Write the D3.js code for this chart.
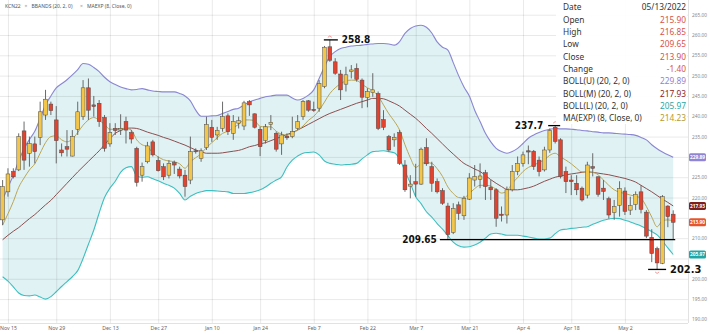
<!DOCTYPE html>
<html>
<head>
<meta charset="utf-8">
<script src="https://cdn.jsdelivr.net/npm/d3@7"></script>
<style>
  body { margin: 0; background: #fff; }
  svg { display: block; font-family: "Noto Sans", "Open Sans", sans-serif; }
</style>
</head>
<body>
<svg id="chart" width="710" height="334"></svg>
<script>
// KCN22 daily candles, Nov 12 2021 – May 13 2022
const dates = [
  "2021-11-12","2021-11-15","2021-11-16","2021-11-17","2021-11-18","2021-11-19","2021-11-22","2021-11-23","2021-11-24","2021-11-26","2021-11-29","2021-11-30",
  "2021-12-01","2021-12-02","2021-12-03","2021-12-06","2021-12-07","2021-12-08","2021-12-09","2021-12-10","2021-12-13","2021-12-14","2021-12-15","2021-12-16","2021-12-17","2021-12-20","2021-12-21","2021-12-22","2021-12-23","2021-12-27","2021-12-28","2021-12-29","2021-12-30","2021-12-31",
  "2022-01-03","2022-01-04","2022-01-05","2022-01-06","2022-01-07","2022-01-10","2022-01-11","2022-01-12","2022-01-13","2022-01-14","2022-01-18","2022-01-19","2022-01-20","2022-01-21","2022-01-24","2022-01-25","2022-01-26","2022-01-27","2022-01-28","2022-01-31",
  "2022-02-01","2022-02-02","2022-02-03","2022-02-04","2022-02-07","2022-02-08","2022-02-09","2022-02-10","2022-02-11","2022-02-14","2022-02-15","2022-02-16","2022-02-17","2022-02-18","2022-02-22","2022-02-23","2022-02-24","2022-02-25","2022-02-28",
  "2022-03-01","2022-03-02","2022-03-03","2022-03-04","2022-03-07","2022-03-08","2022-03-09","2022-03-10","2022-03-11","2022-03-14","2022-03-15","2022-03-16","2022-03-17","2022-03-18","2022-03-21","2022-03-22","2022-03-23","2022-03-24","2022-03-25","2022-03-28","2022-03-29","2022-03-30","2022-03-31",
  "2022-04-01","2022-04-04","2022-04-05","2022-04-06","2022-04-07","2022-04-08","2022-04-11","2022-04-12","2022-04-13","2022-04-14","2022-04-18","2022-04-19","2022-04-20","2022-04-21","2022-04-22","2022-04-25","2022-04-26","2022-04-27","2022-04-28","2022-04-29",
  "2022-05-02","2022-05-03","2022-05-04","2022-05-05","2022-05-06","2022-05-09","2022-05-10","2022-05-11","2022-05-12","2022-05-13"
];

const opens = [
  214.5,221.4,226.4,226.8,236.4,230.9,233.2,234.8,240.3,243.0,239.1,231.7,
  232.5,230.2,236.8,239.9,247.0,242.8,243.2,239.7,233.2,237.0,236.6,238.7,236.0,232.1,225.5,228.8,233.7,229.1,227.6,225.5,228.6,227.0,
  225.5,224.3,231.5,229.6,232.3,237.3,235.4,237.0,240.1,235.8,238.3,237.6,243.6,240.6,236.8,234.0,238.0,235.8,233.2,235.1,
  235.0,237.0,239.9,243.8,241.7,242.0,247.3,257.1,253.4,250.4,247.9,251.0,251.8,248.9,244.6,245.8,245.6,239.2,235.0,
  234.2,236.0,228.0,222.8,223.9,223.3,232.3,227.6,223.9,221.7,217.9,211.4,218.2,215.5,219.6,224.3,224.5,226.1,222.5,221.9,215.9,215.7,221.9,
  226.4,228.4,231.5,231.4,229.2,226.8,231.7,237.3,234.2,226.4,224.3,223.5,222.3,220.6,227.6,225.1,222.3,219.7,216.3,218.1,
  221.6,216.9,218.3,221.4,216.4,210.2,207.4,203.8,217.9,215.90
];
const highs = [
  224.3,227.2,227.2,235.8,238.7,235.0,235.0,243.6,246.5,243.6,242.5,233.3,
  236.6,236.6,243.6,248.9,249.3,245.0,244.0,240.3,238.3,238.3,240.5,239.9,236.6,232.5,228.6,233.7,234.2,230.1,228.4,229.2,229.1,227.6,
  226.8,235.0,232.1,232.1,239.9,239.1,237.4,243.6,240.7,240.3,239.9,243.8,244.0,240.7,237.4,238.1,240.3,236.2,236.2,235.8,
  239.9,240.3,244.0,244.0,243.6,248.9,257.3,258.8,254.3,251.4,252.2,252.6,253.0,249.3,246.9,250.6,246.1,241.5,235.4,
  235.8,236.6,229.2,225.5,228.3,232.3,234.6,228.8,224.7,222.3,218.7,218.6,219.0,220.4,226.0,228.0,228.4,226.8,224.3,222.3,217.8,222.7,228.0,
  230.1,231.3,232.8,231.7,230.1,232.5,237.0,237.7,234.6,227.6,225.5,225.5,222.7,228.8,230.9,225.2,224.3,220.2,219.4,224.0,
  222.5,220.2,221.5,223.0,216.9,212.2,207.9,220.6,218.1,216.85
];
const lows = [
  213.2,220.2,224.7,226.5,226.8,227.6,228.4,232.9,239.1,240.3,228.4,230.1,
  230.1,230.1,235.4,239.1,239.1,239.9,237.4,231.3,232.5,235.4,235.4,233.3,233.3,222.7,223.9,228.4,230.1,226.4,224.3,224.7,225.8,224.7,
  220.2,223.3,230.8,228.8,231.7,233.7,234.2,236.2,235.4,234.2,237.0,236.6,240.1,237.0,230.2,233.3,236.6,231.3,230.5,234.2,
  234.6,236.6,239.1,241.1,241.1,241.1,246.9,253.4,250.2,244.0,246.1,249.3,248.5,242.0,242.2,244.8,236.6,236.6,231.3,
  232.5,228.0,221.4,219.8,220.2,223.1,227.8,221.4,221.0,218.2,209.65,211.0,214.5,214.5,219.4,222.7,222.3,219.4,219.4,212.8,214.1,213.6,221.5,
  225.5,227.6,228.2,226.8,225.2,226.4,231.0,233.3,224.7,221.1,220.6,220.6,219.0,219.8,225.2,220.2,219.4,214.8,214.5,215.3,
  215.7,215.7,216.9,216.1,210.0,204.1,202.3,203.6,212.7,209.65
];
const closes = [
  222.7,225.8,225.1,235.0,229.2,233.3,231.3,241.1,244.2,241.4,234.0,231.0,
  231.9,235.0,241.1,247.0,241.5,242.4,238.7,232.1,236.0,236.5,237.0,236.6,234.4,223.7,227.6,232.7,230.5,226.6,225.1,228.4,228.0,225.3,
  222.7,231.3,231.3,231.5,238.0,234.8,236.5,239.9,236.2,238.7,238.9,243.3,242.8,237.3,232.5,237.4,238.5,231.9,235.4,234.7,
  236.2,238.7,243.6,241.5,241.4,248.1,257.0,253.8,250.6,246.5,250.2,251.4,249.1,244.7,246.1,246.5,237.0,237.3,231.7,
  234.8,228.4,221.9,223.3,223.3,231.9,228.3,223.5,221.4,218.6,210.9,217.3,216.1,219.8,224.8,225.2,225.3,222.7,221.9,214.9,215.6,221.9,226.4,
  228.4,230.5,231.2,227.6,226.4,231.7,236.5,233.8,225.2,223.9,223.9,221.9,219.4,228.0,227.2,220.8,221.5,215.7,217.8,222.2,
  216.6,218.0,220.8,217.1,210.5,206.2,203.9,220.2,215.3,213.90
];

// Bollinger bands (20, 2, 0)
const upperBand = [
  219.5,222.5,225.5,229.0,232.0,234.3,236.3,239.5,242.8,245.0,247.0,248.0,
  249.0,250.2,251.5,253.0,252.8,252.0,251.0,249.6,248.5,247.8,247.2,246.8,246.5,246.6,246.8,246.5,246.2,246.1,246.0,246.0,246.0,245.6,
  245.0,243.8,241.5,240.0,240.0,240.1,240.2,240.7,241.2,241.7,242.0,242.8,243.5,244.0,244.4,244.8,245.0,245.2,245.2,245.2,
  244.5,244.0,244.4,245.2,246.5,249.3,252.2,254.7,255.9,256.7,257.0,257.3,257.4,257.5,257.7,257.8,257.9,257.9,257.8,
  257.5,258.4,260.4,261.6,262.2,262.4,261.9,260.5,258.3,257.0,256.3,253.2,250.0,247.2,245.0,241.5,238.7,235.8,233.7,232.1,231.3,230.9,231.3,
  232.1,233.3,234.6,235.4,236.0,236.5,236.8,237.0,236.9,236.9,236.8,236.7,236.5,236.4,236.2,236.1,235.9,235.9,235.8,235.7,
  235.6,235.5,235.3,234.8,234.2,233.0,232.0,231.2,230.5,229.89
];
const middleBand = [
  209.6,210.7,211.7,212.6,213.7,214.8,215.8,217.0,218.2,219.3,220.7,222.1,
  223.5,224.9,226.3,227.6,228.9,230.2,231.5,233.0,234.5,235.8,236.5,237.0,237.1,237.0,236.6,236.1,235.7,235.3,234.8,234.4,233.9,233.4,
  232.9,232.3,231.7,231.3,230.9,230.9,230.9,231.0,231.2,231.4,231.6,232.0,232.5,232.8,233.2,233.5,234.0,234.5,235.0,235.5,
  236.0,236.6,237.3,238.0,238.7,239.4,240.1,240.7,241.2,241.7,242.2,242.7,243.2,243.6,244.0,244.4,244.4,244.3,243.8,
  243.2,242.5,241.5,240.5,239.5,238.3,237.0,235.8,234.5,233.2,231.9,230.7,229.5,228.4,227.7,227.0,226.4,225.4,224.4,223.5,222.7,222.0,221.9,
  221.9,222.1,222.4,222.8,223.4,224.0,224.5,225.0,225.3,225.6,225.8,226.0,226.2,226.3,226.2,226.0,225.8,225.6,225.3,225.0,
  224.7,224.3,223.8,223.0,222.2,221.4,220.5,219.6,218.8,217.93
];
const lowerBand = [
  200.5,199.4,198.0,196.5,195.9,195.8,196.0,195.5,195.0,195.6,196.8,198.1,
  199.3,200.5,202.0,205.0,208.5,212.0,216.2,220.0,222.3,224.0,226.2,227.3,227.6,225.3,225.0,225.1,224.6,224.1,223.5,223.0,222.3,221.0,
  219.4,220.3,221.0,221.4,221.7,221.7,221.6,221.5,221.4,221.0,221.0,221.0,221.2,221.5,221.9,222.6,223.5,224.3,225.1,227.5,
  229.2,230.2,230.9,231.1,231.2,230.5,229.0,228.4,228.2,228.0,228.1,228.2,228.4,229.5,230.5,231.3,231.4,231.5,231.3,
  231.0,229.5,226.5,223.5,220.2,218.5,216.5,215.2,213.6,212.2,210.6,209.0,208.1,207.8,207.9,208.3,209.0,210.0,211.0,211.2,211.0,210.7,210.7,
  210.7,210.5,210.3,210.0,209.8,209.8,210.0,211.1,212.0,212.2,212.4,212.5,212.7,212.8,213.4,213.9,214.4,214.7,214.9,214.8,
  214.4,214.0,213.5,213.0,212.3,211.6,210.8,209.3,207.6,205.97
];
// MA(EXP) (8, Close, 0)
const emaLine = [
  213.2,216.0,219.0,222.5,224.8,226.8,228.3,230.9,233.5,235.0,235.2,234.2,
  233.7,234.4,236.0,237.8,239.1,239.7,239.0,238.0,236.8,236.8,237.0,237.0,236.6,234.2,233.0,232.5,231.0,230.0,229.3,229.0,228.8,228.3,
  227.2,228.8,229.8,230.8,232.3,233.5,234.7,235.8,236.3,237.2,238.0,239.1,239.1,238.9,237.5,237.4,237.4,236.3,235.6,235.4,
  235.8,236.6,237.6,239.0,240.0,241.5,243.5,245.6,247.0,248.0,248.7,248.9,248.8,247.9,247.0,246.3,245.0,242.8,240.6,
  238.8,236.6,233.0,229.8,227.4,228.3,228.6,228.4,227.1,225.2,222.6,221.0,220.0,219.9,221.0,222.2,223.0,223.0,222.8,222.0,221.1,221.6,223.5,
  224.9,226.4,227.4,228.0,228.6,229.3,230.4,230.9,230.0,229.2,228.3,227.2,226.3,226.3,226.2,225.6,224.3,223.0,221.9,221.3,
  221.0,220.6,220.3,219.8,217.8,215.2,212.8,214.3,214.5,214.23
];

const tickDates = ["2021-11-15","2021-11-29","2021-12-13","2021-12-27","2022-01-10","2022-01-24","2022-02-07","2022-02-22","2022-03-07","2022-03-21","2022-04-04","2022-04-18","2022-05-02"];
const tickLabels = ["Nov 15","Nov 29","Dec 13","Dec 27","Jan 10","Jan 24","Feb 7","Feb 22","Mar 7","Mar 21","Apr 4","Apr 18","May 2"];
const priceTicks = [190,195,200,205,210,215,220,225,230,235,240,245,250,255,260,265];

// marked extremes: [date, price, side]
const extremes = [
  ["2022-02-10", 258.8, "high"],
  ["2022-04-12", 237.7, "high"],
  ["2022-05-10", 202.3, "low"]
];
const supportLine = { from: "2022-03-15", to: "2022-05-13", price: 209.65 };

const infoLabels = ["Date","Open","High","Low","Close","Change","BOLL(U) (20, 2, 0)","BOLL(M) (20, 2, 0)","BOLL(L) (20, 2, 0)","MA(EXP) (8, Close, 0)"];
const infoValues = ["05/13/2022","215.90","216.85","209.65","213.90","-1.40","229.89","217.93","205.97","214.23"];

const COL = {
  up: "#f3c64a", down: "#e2432f", wick: "#5a5a5a", edge: "#4a4a4a",
  fill: "#e0f2f4", upper: "#8a86d2", middle: "#8c4f4f", lower: "#3dbfc0", ema: "#b9a656",
  grid: "rgba(0,0,0,0.085)", text: "#666"
};

const plotRight = 688, plotBottom = 323;
const svg = d3.select("#chart");
const x = d3.scalePoint().domain(dates).range([2.6, 673.2]);
const y = d3.scaleLinear().domain([190, 265]).range([319.4, 14.7]);

const rows = dates.map((d, i) => ({
  d, o: opens[i], h: highs[i], l: lows[i], c: closes[i],
  up: upperBand[i], mid: middleBand[i], lo: lowerBand[i], ema: emaLine[i]
}));

svg.append("defs").append("clipPath").attr("id", "plot")
  .append("rect").attr("x", 0).attr("y", 0).attr("width", plotRight).attr("height", plotBottom);

// band fill
svg.append("path").datum(rows)
  .attr("clip-path", "url(#plot)")
  .attr("fill", COL.fill)
  .attr("d", d3.area().x(r => x(r.d)).y0(r => y(r.lo)).y1(r => y(r.up)).curve(d3.curveMonotoneX));

// grid
const gy = svg.append("g").call(d3.axisRight(y).tickValues(priceTicks).tickSize(plotRight).tickFormat(""));
const gx = svg.append("g").call(d3.axisBottom(x).tickValues(tickDates).tickSize(plotBottom).tickFormat(""));
[gy, gx].forEach(g => {
  g.select(".domain").remove();
  g.selectAll("line").attr("stroke", COL.grid).attr("stroke-width", 1);
});
svg.append("line").attr("x1", 0).attr("x2", plotRight).attr("y1", plotBottom + 0.5).attr("y2", plotBottom + 0.5)
  .attr("stroke", "#e2e2e2");
svg.append("line").attr("x1", plotRight + 0.5).attr("x2", plotRight + 0.5).attr("y1", 0).attr("y2", plotBottom)
  .attr("stroke", "#e2e2e2");

// indicator lines
const lineOf = key => d3.line().x(r => x(r.d)).y(r => y(r[key])).curve(d3.curveMonotoneX);
const lines = svg.append("g").attr("clip-path", "url(#plot)").attr("fill", "none");
lines.append("path").datum(rows).attr("d", lineOf("up")).attr("stroke", COL.upper).attr("stroke-width", 1.1);
lines.append("path").datum(rows).attr("d", lineOf("lo")).attr("stroke", COL.lower).attr("stroke-width", 1.1);
lines.append("path").datum(rows).attr("d", lineOf("mid")).attr("stroke", COL.middle).attr("stroke-width", 1);
lines.append("path").datum(rows).attr("d", lineOf("ema")).attr("stroke", COL.ema).attr("stroke-width", 1);

// candles
const bw = 3.8;
const candles = svg.append("g").selectAll("g").data(rows).join("g");
candles.append("line")
  .attr("x1", r => x(r.d)).attr("x2", r => x(r.d))
  .attr("y1", r => y(r.h)).attr("y2", r => y(r.l))
  .attr("stroke", COL.wick).attr("stroke-width", 0.9);
candles.append("rect")
  .attr("x", r => x(r.d) - bw / 2)
  .attr("width", bw)
  .attr("y", r => y(Math.max(r.o, r.c)))
  .attr("height", r => Math.max(1, Math.abs(y(r.o) - y(r.c))))
  .attr("fill", r => r.c >= r.o ? COL.up : COL.down)
  .attr("stroke", COL.edge).attr("stroke-width", 0.5);

// support line at the March low
svg.append("line")
  .attr("x1", x(supportLine.from) - 8).attr("x2", x(supportLine.to) + 2)
  .attr("y1", y(supportLine.price)).attr("y2", y(supportLine.price))
  .attr("stroke", "#000").attr("stroke-width", 1.3);
const annoFont = '"Liberation Sans Narrow", "Arial Narrow", "DejaVu Sans Condensed", sans-serif';
svg.append("text")
  .attr("x", x(supportLine.from) - 11).attr("y", y(supportLine.price) + 3.6)
  .attr("text-anchor", "end").attr("font-family", annoFont).attr("font-weight", "bold")
  .attr("font-size", 10).attr("fill", "#111").text(supportLine.price.toFixed(2));

// extreme markers
extremes.forEach(([d, p, side]) => {
  const cx = x(d), cy = y(p);
  let x1, x2, tx, anchor;
  if (d === "2022-04-12") { x1 = cx - 7; x2 = cx + 5; tx = cx - 12; anchor = "end"; }
  else if (side === "low") { x1 = cx - 9; x2 = cx + 9; tx = cx + 13; anchor = "start"; }
  else { x1 = cx - 6; x2 = cx + 8; tx = cx + 12; anchor = "start"; }
  svg.append("line").attr("x1", x1).attr("x2", x2).attr("y1", cy).attr("y2", cy)
    .attr("stroke", "#000").attr("stroke-width", 1.3);
  const ay = side === "high" ? cy - 2.5 : cy + 2.5;
  const bulge = side === "high" ? -2 : 2;
  svg.append("path")
    .attr("d", `M${cx - 2},${ay} Q${cx},${ay + bulge * 1.5} ${cx + 2},${ay}`)
    .attr("fill", "none").attr("stroke", "#ea6a6a").attr("stroke-width", 0.7);
  svg.append("text").attr("x", tx).attr("y", cy + 3.6)
    .attr("text-anchor", anchor).attr("font-family", annoFont).attr("font-weight", "bold")
    .attr("font-size", side === "low" ? 11 : 10).attr("fill", "#111").text(p.toFixed(1));
});

// bottom axis labels
const labelOf = new Map(tickDates.map((d, i) => [d, tickLabels[i]]));
const bx = svg.append("g").attr("transform", `translate(0,${plotBottom})`)
  .call(d3.axisBottom(x).tickValues(tickDates).tickSize(0).tickPadding(3.5).tickFormat(d => labelOf.get(d)));
bx.select(".domain").remove();
bx.selectAll("text").attr("font-size", 5.2).attr("fill", COL.text).attr("font-family", '"Noto Sans", sans-serif');

// last-value tags
const last = rows[rows.length - 1];
const tags = [
  [last.up, "#8f84d6"], [last.mid, "#7d1f1f"], [last.c, "#e6552d"], [last.lo, "#1fa7a6"]
];

// right axis labels (those sitting under a value tag are covered by it)
const freeTicks = priceTicks.filter(t => tags.every(([v]) => Math.abs(y(t) - y(v)) > 7));
const ry = svg.append("g").attr("transform", `translate(${plotRight + 2},0)`)
  .call(d3.axisRight(y).tickValues(freeTicks).tickSize(0).tickPadding(2).tickFormat(d3.format(".2f")));
ry.select(".domain").remove();
ry.selectAll("text").attr("font-size", 4.8).attr("fill", "#8a8a8a").attr("font-family", '"Noto Sans", sans-serif');

tags.forEach(([v, col]) => {
  const ty = y(v);
  svg.append("rect").attr("x", plotRight + 1).attr("y", ty - 4).attr("width", 17).attr("height", 8)
    .attr("rx", 1.6).attr("fill", col);
  svg.append("text").attr("x", plotRight + 9.5).attr("y", ty + 1.7).attr("text-anchor", "middle")
    .attr("font-size", 4.8).attr("font-weight", "bold").attr("fill", "#fff").text(v.toFixed(2));
});

// legend
const legend = svg.append("g").attr("font-size", 5).attr("fill", "#555");
legend.append("text").attr("x", 5).attr("y", 7.8).text("KCN22");
legend.append("text").attr("x", 24.5).attr("y", 7.8).attr("fill", "#999").text("×");
legend.append("text").attr("x", 31.5).attr("y", 7.8).text("BBANDS (20, 2, 0)");
legend.append("text").attr("x", 80).attr("y", 7.8).attr("fill", "#999").text("×");
legend.append("text").attr("x", 87).attr("y", 7.8).text("MAEXP (8, Close, 0)");

// data panel
const panel = svg.append("g");
panel.append("rect").attr("x", 556).attr("y", 0).attr("width", 131).attr("height", 124)
  .attr("fill", "#fff").attr("fill-opacity", 0.93);
const valueColors = ["#333", "#d9534a", "#d9534a", "#d9534a", "#d9534a", "#d9534a", "#8f84d6", "#8a2424", "#1fa7a6", "#b59b2e"];
infoLabels.forEach((lab, i) => {
  const ty = 7.3 + i * 12.33 + 3;
  panel.append("text").attr("x", 563).attr("y", ty).attr("font-size", 8.3).attr("fill", "#333").text(lab);
  panel.append("text").attr("x", 686).attr("y", ty).attr("text-anchor", "end")
    .attr("font-size", 8.3).attr("fill", valueColors[i]).text(infoValues[i]);
});
</script>
</body>
</html>
